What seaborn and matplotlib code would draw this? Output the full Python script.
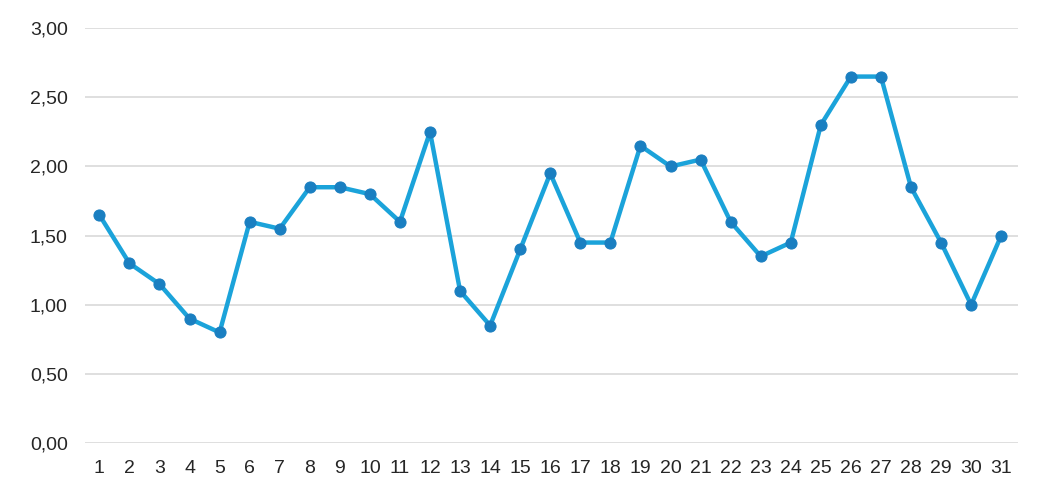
import matplotlib
matplotlib.use("Agg")
import matplotlib.pyplot as plt
import seaborn as sns
import pandas as pd
from matplotlib.ticker import FuncFormatter

days = list(range(1, 32))
values = [1.65, 1.30, 1.15, 0.90, 0.80, 1.60, 1.55, 1.85, 1.85, 1.80,
          1.60, 2.25, 1.10, 0.85, 1.40, 1.95, 1.45, 1.45, 2.15, 2.00,
          2.05, 1.60, 1.35, 1.45, 2.30, 2.65, 2.65, 1.85, 1.45, 1.00, 1.50]
y_ticks = [0.0, 0.5, 1.0, 1.5, 2.0, 2.5, 3.0]

sns.set_theme(style="white")
plt.rcParams['font.family'] = ['Liberation Sans', 'DejaVu Sans']

df = pd.DataFrame({"day": days, "value": values})

fig = plt.figure(figsize=(10.52, 4.94), dpi=100)
ax = fig.add_axes([0.081, 0.103, 0.887, 0.840])

sns.lineplot(data=df, x="day", y="value", ax=ax, color="#1BA3DA", linewidth=3.2,
             marker="o", markersize=8, markerfacecolor="#1A7FC1",
             markeredgecolor="#1A7FC1", zorder=3)

ax.set_xlim(0.53, 31.57)
ax.set_ylim(0, 3.0)
ax.set_yticks(y_ticks)
ax.yaxis.set_major_formatter(FuncFormatter(lambda v, p: f"{v:.2f}".replace(".", ",")))
ax.set_xticks(days)
ax.set_xticklabels([str(d) for d in days])
ax.grid(axis="y", color="#D9D9D9", linewidth=1.2, zorder=0)
ax.grid(axis="x", visible=False)
for s in ax.spines.values():
    s.set_visible(False)
ax.tick_params(axis="both", length=0, labelsize=14, labelcolor="#262626")
ax.tick_params(axis="y", pad=12.5)
ax.tick_params(axis="x", pad=12)
ax.set_xlabel("")
ax.set_ylabel("")

fig.savefig("out.png", dpi=100, facecolor="white")
